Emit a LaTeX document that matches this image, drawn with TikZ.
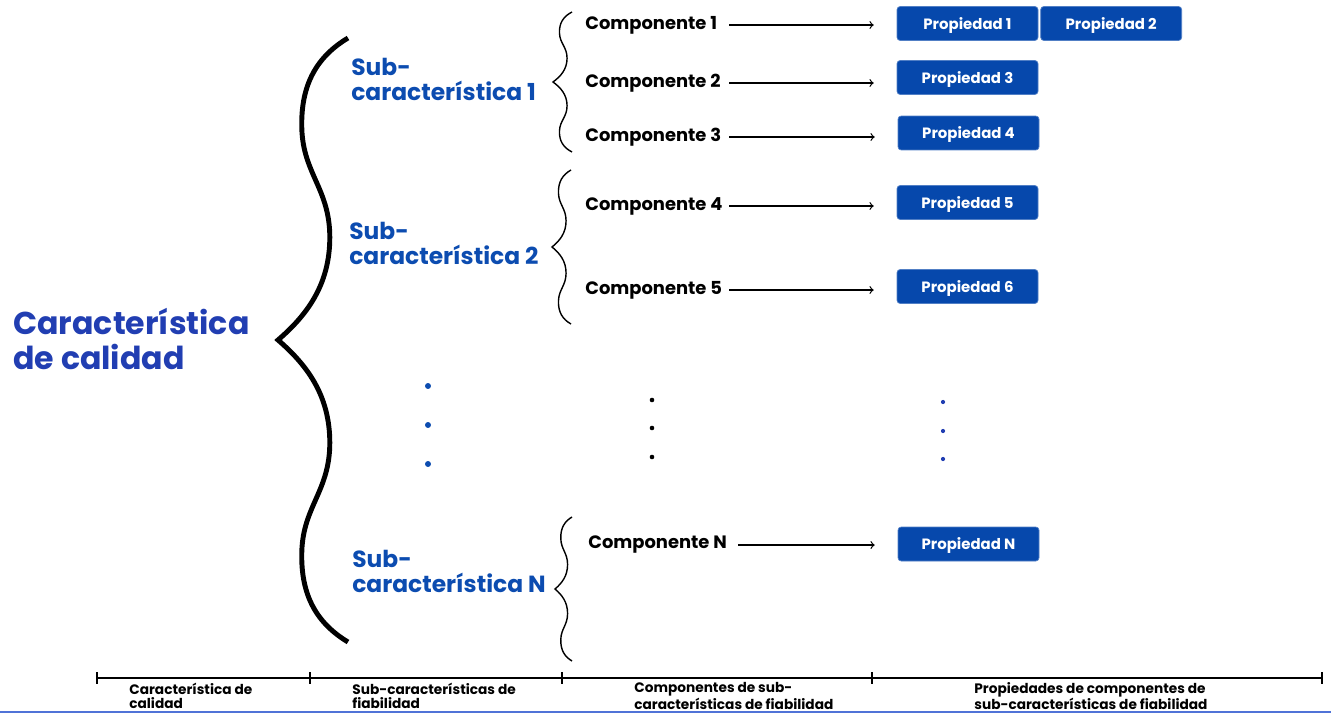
\documentclass[tikz,border=0pt]{standalone}
\usepackage{fontspec}
\setmainfont{Poppins}
\usetikzlibrary{positioning,calc,arrows}
\definecolor{calblue}{RGB}{33,62,178}
\definecolor{subblue}{RGB}{12,76,176}
\definecolor{propblue}{RGB}{6,72,172}
\definecolor{lineblue}{RGB}{80,115,215}

\tikzset{
	wavybrace/.pic={
		\draw[pic actions] (0,1) .. controls (-0.43,0.94) and (-0.68,0.85) .. (-0.66,0.70)
			.. controls (-0.64,0.55) and (-0.26,0.50) .. (-0.26,0.34)
			.. controls (-0.26,0.18) and (-0.60,0.08) .. (-1,0)
			.. controls (-0.60,-0.08) and (-0.26,-0.18) .. (-0.26,-0.34)
			.. controls (-0.26,-0.50) and (-0.64,-0.55) .. (-0.66,-0.70)
			.. controls (-0.68,-0.85) and (-0.43,-0.94) .. (0,-1);
	}
}

\begin{document}
\begin{tikzpicture}[x=0.02cm, y=-0.02cm,
		calidad/.style={anchor=west, inner sep=0pt, align=left, text=calblue, font=\bfseries\fontsize{18}{19.4}\selectfont},
		subcar/.style={anchor=west, inner sep=0pt, align=left, text=subblue, font=\bfseries\fontsize{13.3}{14.2}\selectfont},
		compo/.style={anchor=west, inner sep=0pt, font=\bfseries\fontsize{10.2}{12}\selectfont},
		prop/.style={fill=propblue, draw=propblue!70!white, rounded corners=1.8pt, minimum width=2.82cm, minimum height=0.68cm, inner sep=0pt, text depth=0pt, text=white, font=\bfseries\fontsize{8.5}{10}\selectfont},
		escala/.style={anchor=west, inner sep=0pt, align=left, font=\bfseries\fontsize{7.8}{8.2}\selectfont},
		flecha/.style={->, >=to, line width=0.7pt, shorten >=0.46cm}
	]
	\useasboundingbox (0,0) rectangle (1331,713);

	\node[calidad] (carac) at (13,339) {Característica\\de calidad};

	\pic[line width=2.8pt, xscale=70, yscale=302] at (348,340) {wavybrace};
	\pic[line width=0.8pt, xscale=19, yscale=70] at (572,82) {wavybrace};
	\pic[line width=0.8pt, xscale=19, yscale=77] at (571,247) {wavybrace};
	\pic[line width=0.8pt, xscale=17, yscale=72] at (572,589) {wavybrace};

	\node[subcar] (sub1) at (351,79) {Sub-\\característica 1};
	\node[subcar] (sub2) at (349,243) {Sub-\\característica 2};
	\node[subcar] (subN) at (352,571) {Sub-\\característica N};

	\node[compo] (c1) at (585,25) {Componente 1};
	\node[compo] (c2) at (585,83) {Componente 2};
	\node[compo] (c3) at (585,137) {Componente 3};
	\node[compo] (c4) at (585,206) {Componente 4};
	\node[compo] (c5) at (585,290) {Componente 5};
	\node[compo] (cN) at (588,545) {Componente N};

	\node[prop] (p1) at (967.5,23.5) {Propiedad 1};
	\node[prop, right=0.04cm of p1] (p2) {Propiedad 2};
	\node[prop] (p3) at (967.5,77.5) {Propiedad 3};
	\node[prop] (p4) at (968.5,133) {Propiedad 4};
	\node[prop] (p5) at (967.5,202.5) {Propiedad 5};
	\node[prop] (p6) at (967.5,286.5) {Propiedad 6};
	\node[prop] (pN) at (968.5,544) {Propiedad N};

	\coordinate (ini) at (729,0);
	\coordinate (iniN) at (738,0);
	\draw[flecha] (c1.east -| ini) -- (c1.east -| p1.west);
	\draw[flecha] (c2.east -| ini) -- (c2.east -| p3.west);
	\draw[flecha] (c3.east -| ini) -- (c3.east -| p4.west);
	\draw[flecha] (c4.east -| ini) -- (c4.east -| p5.west);
	\draw[flecha] (c5.east -| ini) -- (c5.east -| p6.west);
	\draw[flecha] (cN.east -| iniN) -- (cN.east -| pN.west);

	\foreach \y in {386,425,464} \fill[subblue] (428,\y) circle (1.7pt);
	\foreach \y in {400,428,457} \fill[black] (652,\y) circle (1.3pt);
	\foreach \y in {402,431,459} \fill[calblue] (943,\y) circle (1.2pt);

	\draw[line width=1.1pt] (97,678) -- (1322,678);
	\foreach \x in {97,310,562,872,1322} \draw[line width=0.8pt] (\x,672) -- (\x,684);

	\node[escala] (e1) at (129,696) {Característica de\\calidad};
	\node[escala] (e2) at (352,696) {Sub-características de\\fiabilidad};
	\node[escala] (e3) at (634,696) {Componentes de sub-\\características de fiabilidad};
	\node[escala] (e4) at (974,696) {Propiedades de componentes de\\sub-características de fiabilidad};

	\draw[lineblue, line width=1pt] (0,712) -- (1331,712);
\end{tikzpicture}
\end{document}
